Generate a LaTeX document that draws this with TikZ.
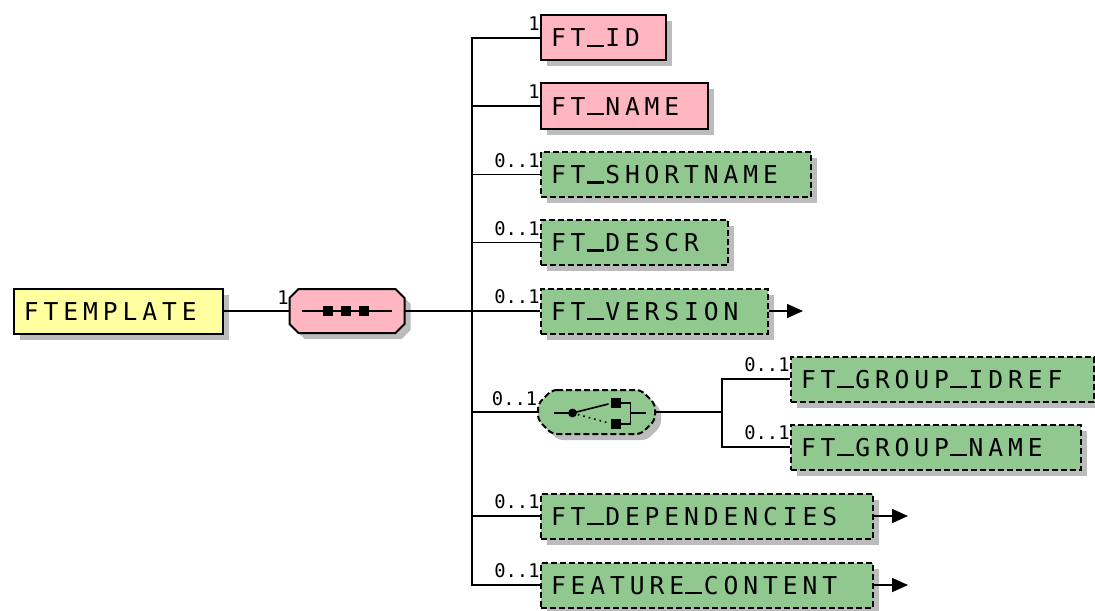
\documentclass[tikz,border=0pt]{standalone}
\usepackage{fontspec}
\usetikzlibrary{positioning,shadows,arrows.meta}
\newfontfamily\elemfont[LetterSpace=20]{DejaVu Sans Mono}
\newfontfamily\cardfont{DejaVu Sans Mono}
\definecolor{reqpink}{RGB}{255,182,193}
\definecolor{optgreen}{RGB}{144,200,144}
\definecolor{rootyellow}{RGB}{255,255,160}
\definecolor{shadegray}{RGB}{188,188,188}
\hyphenpenalty=10000
% underscore drawn as a rule, one monospaced cell wide
\newcommand{\us}{\hspace{0.04em}\rule{0.7em}{0.09em}\hspace{0.062em}}

\begin{document}
\begin{tikzpicture}[x=0.5pt, y=-0.5pt, >={Triangle[length=8pt,width=7pt]},
    boxshadow/.style={drop shadow={shadow xshift=3pt, shadow yshift=-3pt, fill=shadegray, opacity=1}},
    elem/.style={draw, line width=1pt, rectangle, anchor=west, inner xsep=5pt, inner ysep=0pt,
        minimum height=22.5pt, text height=9pt, text depth=0pt, align=left, text width=#1,
        font=\elemfont\fontsize{12.3}{14}\selectfont, boxshadow},
    root/.style={elem=#1, fill=rootyellow},
    req/.style={elem=#1, fill=reqpink},
    opt/.style={elem=#1, fill=optgreen, dash pattern=on 3pt off 1.5pt},
    comp/.style={rectangle, minimum width=#1, minimum height=22pt, inner sep=0pt},
    seqshape/.style={draw, line width=1pt, fill=reqpink, boxshadow},
    choiceshape/.style={draw, line width=1pt, fill=optgreen, dash pattern=on 3pt off 1.5pt,
        rounded corners=2.5pt, boxshadow},
    card/.style={font=\cardfont\fontsize{9.4}{10}\selectfont, inner sep=0pt, anchor=north east,
        text height=6.8pt, text depth=0pt, yshift=-1pt},
    conn/.style={line width=0.8pt}]
    \useasboundingbox (0,0) rectangle (1095,610);

    % root element and its sequence
    \node[root=94.5pt] (root) at (13,311) {FTEMPLATE};
    \node[comp=57.5pt] (seq) at (347,311) {};
    \begin{scope}[shift={(seq.center)}]
        \draw[seqshape] (-48.5,-22) -- (48.5,-22) -- (57.5,-13) -- (57.5,13) -- (48.5,22)
            -- (-48.5,22) -- (-57.5,13) -- (-57.5,-13) -- cycle;
        \draw[conn] (-45,0) -- (45,0);
        \foreach \dx in {-19,-1,17}
            \fill (\dx-5,-5) rectangle (\dx+5,5);
    \end{scope}

    % children of the sequence
    \node[req=52.5pt] (ID) at (540,38) {FT\us ID};
    \node[req=73.5pt] (name) at (540,106) {FT\us NAME};
    \node[opt=125pt] (short) at (540,174.5) {FT\us SHORTNAME};
    \node[opt=83.5pt] (descr) at (540,242.5) {FT\us DESCR};
    \node[opt=103.5pt] (ver) at (540,311) {FT\us VERSION};
    \node[comp=58.5pt] (choice) at (596.5,412) {};
    \node[opt=156pt] (dep) at (540,516) {FT\us DEPENDENCIES};
    \node[opt=156pt] (fc) at (540,585) {FEATURE\us CONTENT};

    % the choice
    \begin{scope}[shift={(choice.center)}]
        \draw[choiceshape] (-44.5,-22) -- (44.5,-22) -- (58.5,-8) -- (58.5,8) -- (44.5,22)
            -- (-44.5,22) -- (-58.5,8) -- (-58.5,-8) -- cycle;
        \draw[conn] (-43,1) -- (-24,1);
        \fill (-24,1) circle (2.2pt);
        \draw[conn] (-24,1) -- (12,-8);
        \draw[conn, dotted] (-24,1) -- (12,11);
        \fill (14,-14) rectangle (24,-4);
        \fill (14,7) rectangle (24,17);
        \draw[conn] (24,-9) -- (34,-9) -- (34,12) -- (24,12);
        \draw[conn] (34,1) -- (49,1);
    \end{scope}
    \node[opt=141.5pt] (gid) at (790,379) {FT\us GROUP\us IDREF};
    \node[opt=135pt] (gname) at (790,447) {FT\us GROUP\us NAME};

    % cardinalities
    \foreach \n/\c in {seq/1, ID/1, name/1, short/0..1, descr/0..1, ver/0..1,
                       choice/0..1, gid/0..1, gname/0..1, dep/0..1, fc/0..1}
        \node[card] (\n-card) at (\n.north west) {\c};

    % connectors
    \coordinate (trunk) at (472,311);
    \coordinate (subtrunk) at (722,412);
    \draw[conn] (root.east) -- (seq.west);
    \foreach \n in {ID,name,short,descr,ver,choice,dep,fc}
        \draw[conn] (seq.east) -- (trunk) |- (\n.west);
    \foreach \n in {gid,gname}
        \draw[conn] (choice.east) -- (subtrunk) |- (\n.west);
    \foreach \n in {ver,dep,fc} {
        \coordinate[right=17pt of \n.east] (\n-tip);
        \draw[conn, ->] (\n.east) -- (\n-tip);
    }
\end{tikzpicture}
\end{document}
